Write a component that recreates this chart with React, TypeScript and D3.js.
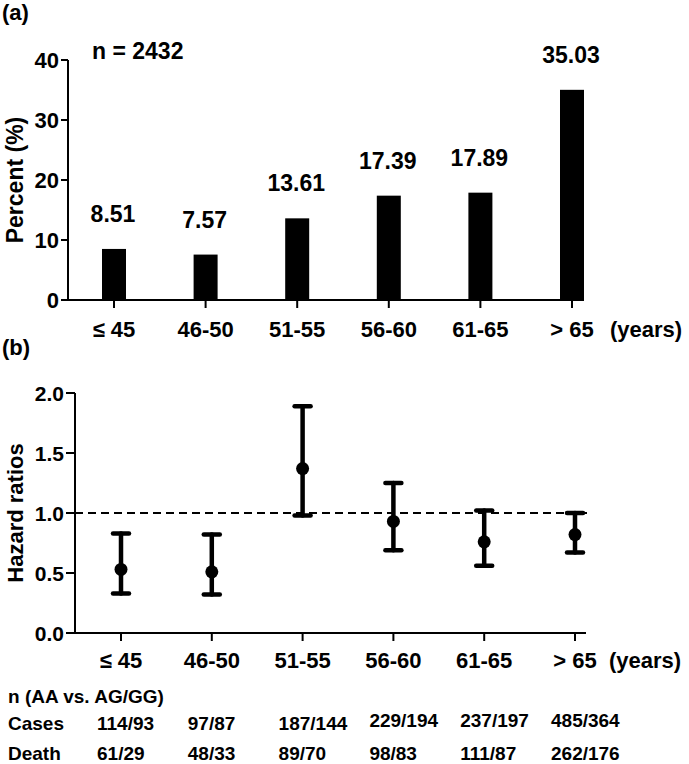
import React from "react";
import * as d3 from "d3";

const categories = ["≤ 45", "46-50", "51-55", "56-60", "61-65", "> 65"];
const percentValues = [8.51, 7.57, 13.61, 17.39, 17.89, 35.03];
const percentTicks = [0, 10, 20, 30, 40];
const hrPoint = [0.53, 0.51, 1.37, 0.93, 0.76, 0.82];
const hrLower = [0.33, 0.32, 0.98, 0.69, 0.56, 0.67];
const hrUpper = [0.83, 0.82, 1.89, 1.25, 1.02, 1.0];
const hrTicks = [0, 0.5, 1.0, 1.5, 2.0];
const casesRow = ["114/93", "97/87", "187/144", "229/194", "237/197", "485/364"];
const deathRow = ["61/29", "48/33", "89/70", "98/83", "111/87", "262/176"];

const FONT = "'Liberation Sans', Arial, Helvetica, sans-serif";

export default function App() {
  const W = 689, H = 764;
  // panel (a)
  const xA = d3.scalePoint<string>().domain(categories).range([114, 572]);
  const yA = d3.scaleLinear().domain([0, 40]).range([300, 60]);
  const axA = { left: 68, right: 584 };
  // panel (b)
  const xB = d3.scalePoint<string>().domain(categories).range([121, 575]);
  const yB = d3.scaleLinear().domain([0, 2]).range([633, 393]);
  const axB = { left: 75, right: 586 };
  const barW = 24;
  const capW = 16;

  return (
    <div style={{ position: "absolute", left: 0, top: 0 }}>
      <svg width={W} height={H} style={{ display: "block", background: "#fff" }}
        fontFamily={FONT} fontWeight="bold" fill="#000">
        {/* ---------- Panel (a) ---------- */}
        <text x={2} y={20} fontSize={22}>(a)</text>
        <text x={92} y={59} fontSize={23}>n = 2432</text>
        <text transform={`translate(23,${yA(20)}) rotate(-90)`} textAnchor="middle" fontSize={23}>Percent (%)</text>
        {/* y axis */}
        <line x1={axA.left} x2={axA.left} y1={yA(0)} y2={yA(40)} stroke="#000" strokeWidth={2} />
        {percentTicks.map((t) => (
          <g key={t}>
            <line x1={axA.left - 7} x2={axA.left} y1={yA(t)} y2={yA(t)} stroke="#000" strokeWidth={2} />
            <text x={axA.left - 9} y={yA(t)} dy="0.36em" textAnchor="end" fontSize={22}>{t}</text>
          </g>
        ))}
        {/* bars */}
        {categories.map((c, i) => (
          <g key={c}>
            <rect x={xA(c)! - barW / 2} y={yA(percentValues[i])} width={barW}
              height={yA(0) - yA(percentValues[i])} fill="#000" />
            <text x={xA(c)! - 1} y={yA(percentValues[i]) - 27} textAnchor="middle" fontSize={23}>
              {percentValues[i].toFixed(2)}
            </text>
          </g>
        ))}
        {/* x axis */}
        <line x1={axA.left} x2={axA.right} y1={yA(0)} y2={yA(0)} stroke="#000" strokeWidth={2} />
        {categories.map((c) => (
          <g key={"ta" + c}>
            <line x1={xA(c)} x2={xA(c)} y1={yA(0)} y2={yA(0) + 8} stroke="#000" strokeWidth={2} />
            <text x={xA(c)} y={yA(0) + 37} textAnchor="middle" fontSize={22}>{c}</text>
          </g>
        ))}
        <text x={610} y={yA(0) + 37} fontSize={22}>(years)</text>

        {/* ---------- Panel (b) ---------- */}
        <text x={2} y={355} fontSize={22}>(b)</text>
        <text transform={`translate(23,${yB(1.0)}) rotate(-90)`} textAnchor="middle" fontSize={22}>Hazard ratios</text>
        <line x1={axB.left} x2={axB.left} y1={yB(0)} y2={yB(2)} stroke="#000" strokeWidth={2} />
        {hrTicks.map((t) => (
          <g key={t}>
            <line x1={axB.left - 9} x2={axB.left} y1={yB(t)} y2={yB(t)} stroke="#000" strokeWidth={2} />
            <text x={axB.left - 11} y={yB(t)} dy="0.36em" textAnchor="end" fontSize={21}>{t.toFixed(1)}</text>
          </g>
        ))}
        {/* reference line */}
        <line x1={axB.left} x2={axB.right + 1} y1={yB(1)} y2={yB(1)} stroke="#000" strokeWidth={2}
          strokeDasharray="8,5" />
        {/* error bars */}
        {categories.map((c, i) => {
          const x = xB(c)!;
          return (
            <g key={"eb" + c} stroke="#000" strokeWidth={4.5} strokeLinecap="round">
              <line x1={x} x2={x} y1={yB(hrLower[i])} y2={yB(hrUpper[i])} />
              <line x1={x - capW / 2} x2={x + capW / 2} y1={yB(hrLower[i])} y2={yB(hrLower[i])} />
              <line x1={x - capW / 2} x2={x + capW / 2} y1={yB(hrUpper[i])} y2={yB(hrUpper[i])} />
              <circle cx={x} cy={yB(hrPoint[i])} r={6.5} fill="#000" stroke="none" />
            </g>
          );
        })}
        {/* x axis */}
        <line x1={axB.left} x2={axB.right} y1={yB(0)} y2={yB(0)} stroke="#000" strokeWidth={2} />
        {categories.map((c) => (
          <g key={"tb" + c}>
            <line x1={xB(c)} x2={xB(c)} y1={yB(0)} y2={yB(0) + 8} stroke="#000" strokeWidth={2} />
            <text x={xB(c)} y={yB(0) + 35} textAnchor="middle" fontSize={22}>{c}</text>
          </g>
        ))}
        <text x={609} y={yB(0) + 35} fontSize={22}>(years)</text>

        {/* table */}
        <text x={8} y={703} fontSize={19}>n (AA vs. AG/GG)</text>
        <text x={8} y={730} fontSize={19}>Cases</text>
        <text x={8} y={760} fontSize={19}>Death</text>
        {categories.map((c, i) => (
          <g key={"tbl" + c}>
            <text x={xB(c)! - 24} y={730 - (i >= 3 ? 3 : 0)} fontSize={19}>{casesRow[i]}</text>
            <text x={xB(c)! - 24} y={760} fontSize={19}>{deathRow[i]}</text>
          </g>
        ))}
      </svg>
    </div>
  );
}
